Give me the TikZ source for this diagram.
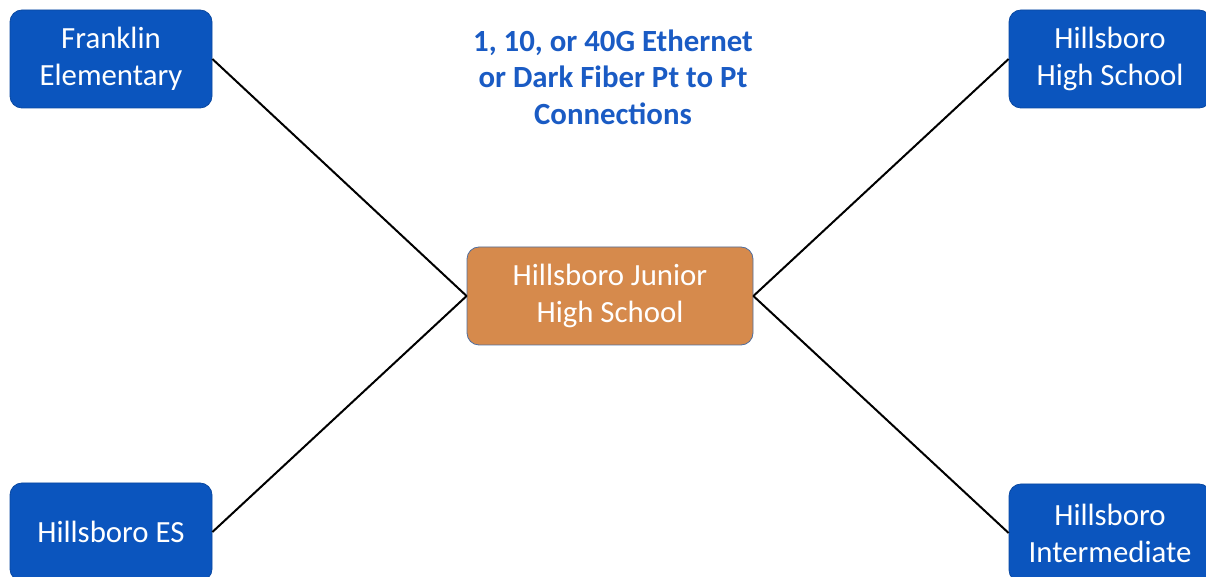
\documentclass[tikz,border=0pt]{standalone}
\usepackage{fontspec}
\setmainfont{Carlito}
\usetikzlibrary{positioning}
\definecolor{siteblue}{HTML}{0B55BE}
\definecolor{hubfill}{HTML}{D68A4C}
\definecolor{hubedge}{HTML}{4F6E9E}
\definecolor{notetext}{HTML}{1A5BC4}

\begin{document}
\begin{tikzpicture}[x=0.5pt,y=-0.5pt]
\tikzstyle{site}=[draw=siteblue!85!black, fill=siteblue, rounded corners=6pt, minimum width=101pt, minimum height=49pt, text=white, align=center, inner sep=0pt, font=\fontsize{15.4}{18.5}\selectfont]
\tikzstyle{hub}=[site, fill=hubfill, draw=hubedge, minimum width=143pt]
\useasboundingbox (0,0) rectangle (1206,577);
\node [site] (franklin) at (111,59) {Franklin\\Elementary};
\node [site] (highschool) at (1110,59) {Hillsboro\\High School};
\node [site] (es) at (111,532) {Hillsboro ES};
\node [site] (intermediate) at (1110,533) {Hillsboro\\Intermediate};
\node [hub] (junior) at (610,296) {Hillsboro Junior\\High School};
\node [align=center, text=notetext, inner sep=0pt, font=\bfseries\fontsize{15.4}{18.2}\selectfont] (note) at (613,77) {1, 10, or 40G Ethernet\\or Dark Fiber Pt to Pt\\Connections};
\draw [line width=1pt] (franklin.east) -- (junior.west);
\draw [line width=1pt] (es.east) -- (junior.west);
\draw [line width=1pt] (highschool.west) -- (junior.east);
\draw [line width=1pt] (intermediate.west) -- (junior.east);
\end{tikzpicture}
\end{document}
